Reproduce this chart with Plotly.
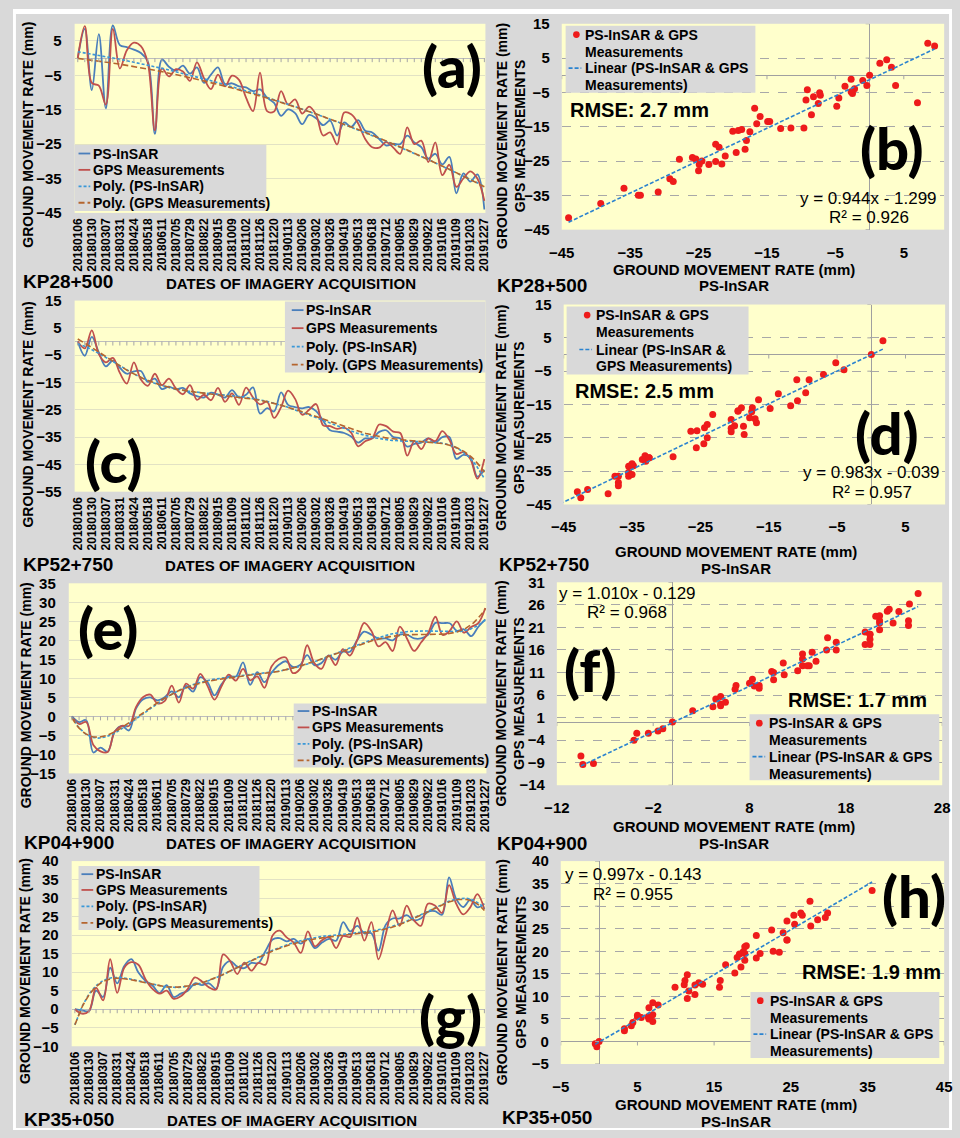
import numpy as np
from numpy.polynomial import Polynomial
import plotly.graph_objects as go

# ---------------------------------------------------------------- data
dates = ["20180106", "20180118", "20180130", "20180223", "20180307", "20180319", "20180331",
         "20180412", "20180424", "20180506", "20180518", "20180530", "20180611", "20180623",
         "20180705", "20180717", "20180729", "20180810", "20180822", "20180903", "20180915",
         "20180927", "20181009", "20181021", "20181102", "20181114", "20181126", "20181208",
         "20181220", "20190101", "20190113", "20190125", "20190206", "20190218", "20190302",
         "20190314", "20190326", "20190407", "20190419", "20190501", "20190513", "20190606",
         "20190618", "20190630", "20190712", "20190724", "20190805", "20190817", "20190829",
         "20190910", "20190922", "20191004", "20191016", "20191028", "20191109", "20191121",
         "20191203", "20191215", "20191227"]

# KP28+500
a_insar = [0, 8.5, -9.3, 7.0, -14.6, 9.5, 3.8, 3.2, 2.5, 1.5,
           -1.0, -22.0, -0.4, -2.5, -3.6, -2.2, -4.5, -2.7, -7.2, -4.8,
           -2.7, -7.5, -7.3, -8.2, -8.5, -9.6, -9.1, -11.5, -13.0, -16.8,
           -14.9, -16.0, -19.2, -16.5, -17.5, -19.5, -18.2, -22.5, -18.7, -20.0,
           -18.0, -21.1, -21.6, -23.5, -25.4, -24.9, -25.0, -22.5, -24.5, -25.9,
           -29.2, -27.8, -30.9, -28.7, -39.3, -33.5, -35.9, -33.8, -44.0]
a_gps = [0, 9.3, -7.2, -8.0, -13.5, 8.5, -3.0, 2.3, 4.5, 3.5,
         -1.5, -21.0, -3.0, -5.3, -3.2, -3.9, -6.6, -1.2, -5.8, -9.0,
         -4.8, -8.2, -5.1, -6.3, -11.5, -15.4, -4.2, -15.4, -15.5, -9.6,
         -13.5, -12.0, -16.1, -14.1, -16.5, -22.5, -21.6, -25.1, -15.8, -16.3,
         -19.0, -23.5, -25.9, -26.0, -24.4, -26.0, -27.8, -20.1, -25.0, -24.0,
         -30.2, -24.5, -34.0, -31.0, -37.4, -35.0, -32.9, -35.0, -41.5]

# KP52+750
c_insar = [0, -5.2, 1.7, -4.0, -9.1, -7.0, -9.6, -11.8, -10.9, -10.8,
           -14.8, -13.6, -17.4, -16.5, -17.5, -17.0, -19.0, -20.0, -20.5, -18.7,
           -19.5, -20.5, -17.8, -20.5, -19.5, -16.8, -26.4, -24.4, -25.6, -18.6,
           -23.2, -24.0, -24.5, -24.0, -25.5, -29.0, -32.5, -33.0, -33.5, -34.8,
           -37.0, -35.5, -35.5, -33.1, -32.5, -35.0, -35.5, -38.5, -37.5, -37.0,
           -35.5, -37.0, -35.0, -35.0, -43.0, -41.5, -42.5, -49.5, -47.0]
c_gps = [0, -2.5, 4.1, -4.6, -7.6, -6.0, -11.5, -15.4, -7.6, -13.9,
         -16.2, -11.8, -16.0, -13.6, -17.2, -19.3, -16.0, -21.4, -19.5, -21.5,
         -17.0, -22.1, -19.0, -23.2, -16.9, -20.5, -23.0, -22.0, -28.0, -24.0,
         -18.0, -21.0, -26.8, -25.0, -22.9, -30.7, -31.0, -32.0, -31.5, -33.4,
         -38.4, -36.5, -35.4, -30.4, -31.0, -33.0, -33.5, -41.8, -36.5, -39.4,
         -35.5, -36.5, -32.8, -36.0, -41.2, -40.5, -43.0, -50.2, -43.0]

# KP04+900
e_insar = [0, -1.5, -1.0, -9.5, -8.2, -9.3, -4.0, -2.5, -3.7, 2.1,
           4.5, 5.0, 4.2, 5.0, 6.6, 5.0, 8.0, 6.5, 10.3, 9.0,
           5.5, 8.5, 10.5, 10.5, 14.2, 8.3, 11.6, 9.0, 11.5, 13.5,
           14.5, 13.0, 13.5, 16.1, 13.5, 14.0, 16.0, 14.9, 17.0, 17.0,
           20.0, 22.3, 21.5, 20.5, 20.5, 20.0, 21.5, 21.5, 20.5, 20.5,
           21.5, 24.6, 24.5, 24.5, 22.5, 22.9, 21.1, 23.5, 25.5]
e_gps = [0, -2.0, -1.5, -7.5, -9.2, -9.4, -4.0, -2.5, -2.5, 2.5,
         5.1, 5.7, 3.4, 4.0, 8.1, 3.6, 8.6, 7.3, 11.2, 8.1,
         4.4, 8.0, 11.0, 9.4, 12.5, 9.5, 10.5, 7.5, 13.1, 15.1,
         15.5, 11.4, 12.5, 18.7, 14.0, 12.5, 16.0, 13.5, 17.7, 16.0,
         20.0, 24.6, 22.5, 18.4, 19.5, 17.2, 23.6, 20.5, 17.2, 19.5,
         22.0, 26.2, 21.4, 22.5, 25.0, 22.0, 23.5, 24.5, 28.5]

# KP35+050
g_insar = [0, -0.3, -0.5, 5.0, 3.3, 11.2, 7.0, 11.7, 13.5, 9.9,
           7.7, 6.4, 4.4, 6.5, 3.3, 4.2, 5.0, 7.0, 6.5, 7.0,
           5.5, 11.5, 13.0, 11.5, 11.1, 12.5, 12.5, 15.7, 18.8, 19.2,
           18.3, 19.0, 17.7, 19.0, 16.5, 18.0, 19.0, 18.5, 23.5, 21.0,
           22.5, 20.5, 20.5, 15.8, 22.7, 24.5, 24.5, 25.4, 24.0, 24.5,
           26.3, 26.5, 25.5, 35.6, 29.8, 27.6, 29.5, 27.5, 28.5]
g_gps = [0, -1.2, -0.5, 5.8, 2.4, 13.5, 4.4, 11.2, 12.7, 12.0,
         8.1, 5.5, 4.2, 5.0, 2.8, 3.5, 5.5, 8.6, 7.5, 5.9,
         5.3, 14.8, 13.0, 9.5, 12.6, 10.4, 12.5, 12.0, 19.9, 21.2,
         19.4, 18.0, 15.2, 21.0, 17.0, 18.6, 19.5, 16.5, 19.8, 19.5,
         24.7, 18.5, 23.5, 13.5, 20.0, 26.7, 22.5, 28.0, 24.1, 22.5,
         28.5, 28.0, 26.0, 33.5, 28.5, 25.6, 27.5, 31.1, 27.0]

# regression statistics printed on the scatter panels
b_fit = {"slope": 0.944, "icpt": -1.299, "r2": 0.926, "rmse": 2.7}
d_fit = {"slope": 0.983, "icpt": -0.039, "r2": 0.957, "rmse": 2.5}
f_fit = {"slope": 1.010, "icpt": -0.129, "r2": 0.968, "rmse": 1.7}
h_fit = {"slope": 0.997, "icpt": -0.143, "r2": 0.955, "rmse": 1.9}

# ---------------------------------------------------------------- style
W, H = 960, 1138
FONT = "Liberation Sans"
BIG = "Lato"
PANEL = "#D9D9D9"
PLOT_BG = "#FFFFCC"
C_INSAR = "#4A7EBB"
C_GPS = "#C0504D"
C_POLY_INSAR = "#3A98D8"
C_POLY_GPS = "#B5652E"
C_DOT = "#EE1B1B"
C_TREND = "#2B83CF"
AXIS_GREY = "#A6A6A6"
DASH_POLY_INSAR = "3px,2px"
DASH_POLY_GPS = "6px,3px"
DASH_TREND = "4px,2px"


def fx(p):
    return p / W


def fy(p):
    return 1 - p / H


fig = go.Figure()
shapes, annotations, layout = [], [], {}
n = len(dates)
xs = np.arange(n)
xfine = np.linspace(0, n - 1, 300)


def text(x, y, s, size, bold=True, xanchor="center", yanchor="middle", angle=0,
         family=FONT, weight=None):
    w = weight if weight is not None else ("bold" if bold else "normal")
    annotations.append(dict(
        x=fx(x), y=fy(y), xref="paper", yref="paper", text=s, showarrow=False,
        xanchor=xanchor, yanchor=yanchor, textangle=angle,
        font=dict(family=family, size=size, color="black", weight=w)))


def paper_rect(x0, y0, x1, y1, color, layer="above"):
    shapes.append(dict(type="rect", xref="paper", yref="paper", x0=fx(x0), x1=fx(x1),
                       y0=fy(y1), y1=fy(y0), fillcolor=color, line_width=0, layer=layer))


def paper_line(x0, x1, y, color, dash, width=1.8):
    shapes.append(dict(type="line", xref="paper", yref="paper", x0=fx(x0), x1=fx(x1),
                       y0=fy(y), y1=fy(y), line=dict(color=color, width=width, dash=dash),
                       layer="above"))


def line_legend(box, tx, ys):
    """Key for a time-series panel: grey card, short line samples, bold labels."""
    paper_rect(*box, PANEL)
    entries = [("PS-InSAR", C_INSAR, "solid"),
               ("GPS Measurements", C_GPS, "solid"),
               ("Poly. (PS-InSAR)", C_POLY_INSAR, DASH_POLY_INSAR),
               ("Poly. (GPS Measurements)", C_POLY_GPS, DASH_POLY_GPS)]
    for (label, color, dash), y in zip(entries, ys):
        paper_line(tx - 13, tx - 1, y, color, dash)
        text(tx, y, label, 14, xanchor="left")


def scatter_legend(box, mx, tx, ys, rows):
    """Key for a scatter panel: marker sample, dashed trend sample, wrapped labels."""
    paper_rect(*box, PANEL)
    r = 3.4
    shapes.append(dict(type="circle", xref="paper", yref="paper",
                       x0=fx(mx - r), x1=fx(mx + r), y0=fy(ys[0] + r), y1=fy(ys[0] - r),
                       fillcolor=C_DOT, line_width=0, layer="above"))
    paper_line(tx - 15, tx - 2, ys[2], C_TREND, DASH_TREND, width=1.6)
    for label, y in zip(rows, ys):
        text(tx, y, label, 14, xanchor="left")


def line_panel(k, box, yrange, dtick, insar, gps, deg):
    x0, y0, x1, y1 = box
    xa, ya = f"x{k}", f"y{k}"
    layout[f"xaxis{k}"] = dict(
        domain=[fx(x0), fx(x1)], range=[-0.45, n - 1 + 0.15], anchor=ya,
        tickmode="array", tickvals=list(xs[::2]), ticktext=dates[::2], tickangle=-90,
        tickfont=dict(family=FONT, size=12, color="black", weight="bold"),
        showgrid=False, zeroline=False, showline=False, ticks="", ticklabelstandoff=2)
    layout[f"yaxis{k}"] = dict(
        domain=[fy(y1), fy(y0)], range=yrange, anchor=xa, tick0=yrange[0], dtick=dtick,
        tickfont=dict(family=FONT, size=15, color="black", weight="bold"),
        showgrid=True, gridcolor="#E2E2C4", gridwidth=1,
        zeroline=True, zerolinecolor="#BDBDBD", zerolinewidth=1.2,
        showline=False, ticks="", ticklabelstandoff=12)
    common = dict(xaxis=xa, yaxis=ya, showlegend=False)
    fig.add_trace(go.Scatter(x=xs, y=insar, mode="lines", name="PS-InSAR",
                             line=dict(color=C_INSAR, width=1.8, shape="spline", smoothing=1.0),
                             **common))
    fig.add_trace(go.Scatter(x=xs, y=gps, mode="lines", name="GPS Measurements",
                             line=dict(color=C_GPS, width=1.8, shape="spline", smoothing=1.0),
                             **common))
    p_insar = Polynomial.fit(xs, insar, deg)
    p_gps = Polynomial.fit(xs, gps, deg)
    fig.add_trace(go.Scatter(x=xfine, y=p_insar(xfine), mode="lines", name="Poly. (PS-InSAR)",
                             line=dict(color=C_POLY_INSAR, width=1.6, dash=DASH_POLY_INSAR),
                             **common))
    fig.add_trace(go.Scatter(x=xfine, y=p_gps(xfine), mode="lines", name="Poly. (GPS Measurements)",
                             line=dict(color=C_POLY_GPS, width=1.6, dash=DASH_POLY_GPS), **common))
    # category tick marks hanging from the zero axis
    for i in xs:
        shapes.append(dict(type="line", xref=xa, yref=ya, x0=int(i), x1=int(i),
                           ysizemode="pixel", yanchor=0, y0=0, y1=-4,
                           line=dict(color=AXIS_GREY, width=1)))


def scatter_panel(k, box, xrange, xdtick, yrange, ydtick, insar, gps, fit):
    x0, y0, x1, y1 = box
    xa, ya = f"x{k}", f"y{k}"
    layout[f"xaxis{k}"] = dict(
        domain=[fx(x0), fx(x1)], range=xrange, anchor=ya, tick0=xrange[0], dtick=xdtick,
        tickfont=dict(family=FONT, size=15, color="black", weight="bold"),
        showgrid=False, zeroline=True, zerolinecolor="#A0A0A0", zerolinewidth=1,
        showline=False, ticks="", ticklabelstandoff=12)
    layout[f"yaxis{k}"] = dict(
        domain=[fy(y1), fy(y0)], range=yrange, anchor=xa, tick0=yrange[0], dtick=ydtick,
        tickfont=dict(family=FONT, size=15, color="black", weight="bold"),
        showgrid=True, gridcolor="#A8A8A8", griddash="dash", gridwidth=1,
        zeroline=True, zerolinecolor="#A0A0A0", zerolinewidth=1,
        showline=False, ticks="", ticklabelstandoff=11)
    common = dict(xaxis=xa, yaxis=ya, showlegend=False)
    fig.add_trace(go.Scatter(x=insar, y=gps, mode="markers", name="PS-InSAR & GPS Measurements",
                             marker=dict(color=C_DOT, size=7, line_width=0), **common))
    xl = np.array([min(insar), max(insar)])
    fig.add_trace(go.Scatter(x=xl, y=fit["slope"] * xl + fit["icpt"], mode="lines",
                             name="Linear (PS-InSAR & GPS Measurements)",
                             line=dict(color=C_TREND, width=1.6, dash=DASH_TREND), **common))
    # major tick marks on the two zero axes
    xt = np.arange(xrange[0], xrange[1] + 1e-9, xdtick)
    yt = np.arange(yrange[0], yrange[1] + 1e-9, ydtick)
    for v in xt:
        shapes.append(dict(type="line", xref=xa, yref=ya, x0=float(v), x1=float(v),
                           ysizemode="pixel", yanchor=0, y0=0, y1=-4,
                           line=dict(color=AXIS_GREY, width=1)))
    for v in yt:
        shapes.append(dict(type="line", xref=xa, yref=ya, y0=float(v), y1=float(v),
                           xsizemode="pixel", xanchor=0, x0=0, x1=-4,
                           line=dict(color=AXIS_GREY, width=1)))


line_panel(1, (63, 15, 483, 207), [-45, 10], 10, a_insar, a_gps, 2)
scatter_panel(2, (561, 15, 952, 224), [-45, 10.9], 10, [-45, 15], 10, a_insar, a_gps, b_fit)
line_panel(3, (63, 296, 483, 490), [-55, 15], 10, c_insar, c_gps, 6)
scatter_panel(4, (563, 300, 953, 503), [-45, 10.8], 10, [-45, 15], 10, c_insar, c_gps, d_fit)
line_panel(5, (57, 583, 484, 776), [-15, 35], 5, e_insar, e_gps, 6)
scatter_panel(6, (556, 582, 950, 788), [-12, 28], 10, [-14, 31], 5, e_insar, e_gps, f_fit)
line_panel(7, (60, 865, 483, 1053), [-10, 40], 5, g_insar, g_gps, 6)
scatter_panel(8, (560, 865, 952, 1071), [-5, 45], 10, [-5, 40], 5, g_insar, g_gps, h_fit)

# ---------------------------------------------------------------- keys
line_legend((63, 138, 259, 205), 80, [146.7, 163.3, 180, 196.7])
line_legend((278, 297, 483, 369), 298, [305.7, 324, 342.7, 361])
line_legend((287, 705, 485, 770), 304, [712.7, 729.3, 746, 762.7])
line_legend((67, 870, 252, 935), 83, [878.3, 894.3, 911, 927.7])

ROWS_B = ["PS-InSAR & GPS", "Measurements", "Linear (PS-InSAR & GPS", "Measurements)"]
ROWS_D = ["PS-InSAR & GPS", "Measurements", "Linear (PS-InSAR &", "GPS Measurements)"]
scatter_legend((565, 17, 759, 85), 576, 583, [26, 43.3, 60, 77], ROWS_B)
scatter_legend((566, 302, 752, 371), 587, 594, [310.7, 328.3, 345.7, 362.7], ROWS_D)
scatter_legend((753, 716, 947, 783), 763, 771, [725, 742.3, 759, 776.7], ROWS_B)
scatter_legend((754, 998, 947, 1065), 764, 772, [1006.7, 1024, 1040.7, 1057.3], ROWS_B)

# ---------------------------------------------------------------- texts
YT = "GROUND MOVEMENT RATE (mm)"
XT_LINE = "DATES OF IMAGERY ACQUISITION"
YT_SC = "GROUND MOVEMENT RATE (mm)<br>GPS MEASUREMENTS"

for (ytx, yty, xtx, xty, kpx, kpy, kp, let, lx, ly) in [
        (15, 128, 284, 279, 8, 277, "KP28+500", "(a)", 449, 57),
        (15, 412, 283, 565, 8, 564, "KP52+750", "(c)", 103, 458),
        (13, 697, 284, 847, 9, 846, "KP04+900", "(e)", 97, 628),
        (13, 977, 285, 1128, 9, 1127, "KP35+050", "(g)", 447, 1022)]:
    text(ytx, yty, YT, 14, angle=-90)
    text(xtx, xty, XT_LINE, 15)
    text(kpx, kpy, kp, 19, xanchor="left")
    text(lx, ly, let, 58, family=BIG, weight=900)

for (ytx, yty, xtx, xty, kpx, kpy, kp, let, lx, ly, fit, rx, ry, ex, ey) in [
        (509, 129, 737, 264, 493, 281, "KP28+500", "(b)", 899, 141, b_fit, 567, 103, 875, 192),
        (508, 415, 739, 551, 495, 564, "KP52+750", "(d)", 894, 430, d_fit, 573, 388, 878, 471),
        (508, 695, 737, 830, 493, 847, "KP04+900", "(f)", 590, 671, f_fit, 790, 701, 628, 593),
        (510, 978, 739, 1112, 498, 1125, "KP35+050", "(h)", 921, 900, h_fit, 805, 978, 634, 879)]:
    text(ytx, yty, YT_SC, 14, angle=-90)
    text(xtx, xty, YT, 15)
    text(xtx, xty + 17, "PS-InSAR", 15)
    text(kpx, kpy, kp, 19, xanchor="left")
    text(lx, ly, let, 58, family=BIG, weight=900)
    text(rx, ry, f"RMSE: {fit['rmse']:.1f} mm", 20, xanchor="left")
    sign = "-" if fit["icpt"] < 0 else "+"
    text(ex, ey, f"y = {fit['slope']:.3f}x {sign} {abs(fit['icpt']):.3f}", 17, bold=False)
    text(ex, ey + 20, f"R² = {fit['r2']:.3f}", 17, bold=False)

# thin white frame round the grey card
paper_rect(0, 0, W, 5, "white", "below")
paper_rect(0, 1136, W, H, "white", "below")
paper_rect(0, 0, 3, H, "white", "below")
paper_rect(957, 0, W, H, "white", "below")

fig.update_layout(
    width=W, height=H, margin=dict(l=0, r=0, t=0, b=0, pad=0),
    paper_bgcolor=PANEL, plot_bgcolor=PLOT_BG,
    showlegend=False, shapes=shapes, annotations=annotations,
    font=dict(family=FONT, color="black"),
    **layout)

fig.write_html("out.html")
